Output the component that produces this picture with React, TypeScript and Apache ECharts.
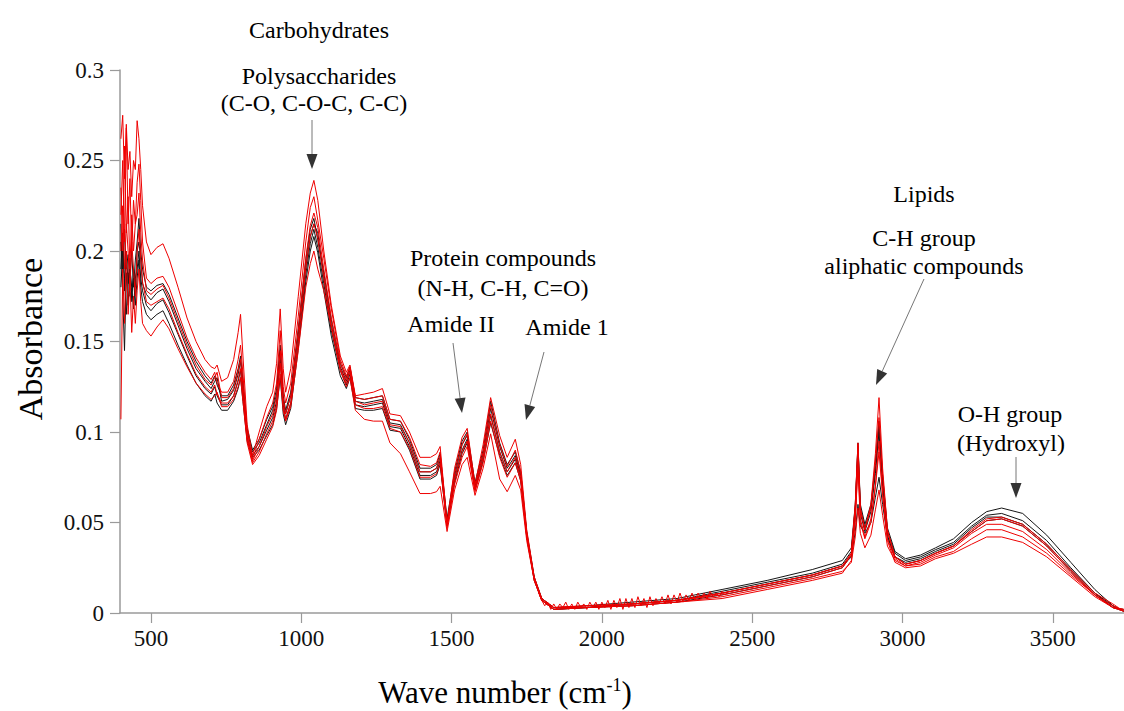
import React, { useEffect, useRef } from "react";
import * as echarts from "echarts";

// Shared wavenumber grid (cm-1)
const wavenumbers = [
  400, 406, 412, 418, 424, 430, 436, 442, 448, 454, 460, 466, 472,
  485, 500, 520, 540, 560, 590, 620, 650, 680, 700,
  712, 720, 735, 755, 775, 790, 798, 806, 820, 838,
  860, 885, 905, 918, 930, 940, 948, 965, 990, 1015,
  1030, 1042, 1055, 1075, 1100, 1130, 1150, 1162, 1180, 1210,
  1240, 1270, 1295, 1330, 1360, 1395, 1430, 1450, 1462, 1485,
  1510, 1535, 1552, 1578, 1605, 1630, 1660, 1685, 1712, 1730,
  1750, 1775, 1800, 1840, 1950, 2100, 2250, 2400, 2550, 2700,
  2800, 2830, 2843, 2852, 2860, 2875, 2895, 2910, 2922, 2934,
  2950, 2975, 3010, 3060, 3110, 3170, 3230, 3280, 3330, 3400,
  3480, 3560, 3640, 3700, 3736,
];

const black1 = [
  0.205, 0.188, 0.212, 0.19, 0.198, 0.185, 0.2, 0.18, 0.195, 0.205, 0.218, 0.2, 0.19,
  0.18, 0.178, 0.181, 0.182, 0.176, 0.163, 0.15, 0.139, 0.131, 0.127,
  0.131, 0.126, 0.12, 0.12, 0.126, 0.135, 0.142, 0.128, 0.102, 0.09,
  0.096, 0.107, 0.114, 0.124, 0.148, 0.12, 0.112, 0.122, 0.157, 0.195,
  0.212, 0.218, 0.206, 0.188, 0.162, 0.138, 0.13, 0.136, 0.119, 0.118,
  0.119, 0.12, 0.107, 0.106, 0.096, 0.08, 0.08, 0.082, 0.088, 0.052,
  0.078, 0.095, 0.1, 0.072, 0.09, 0.117, 0.094, 0.082, 0.089, 0.078,
  0.045, 0.02, 0.008, 0.003, 0.004, 0.006, 0.008, 0.013, 0.018, 0.024,
  0.029, 0.036, 0.06, 0.094, 0.06, 0.049, 0.06, 0.083, 0.106, 0.076,
  0.047, 0.034, 0.03, 0.032, 0.036, 0.041, 0.05, 0.056, 0.058, 0.055,
  0.043, 0.028, 0.013, 0.004, 0.001,
];
const black2 = [
  0.19, 0.21, 0.178, 0.2, 0.182, 0.196, 0.172, 0.19, 0.18, 0.2, 0.205, 0.195, 0.182,
  0.176, 0.173, 0.177, 0.179, 0.172, 0.159, 0.146, 0.135, 0.128, 0.124,
  0.128, 0.13, 0.117, 0.118, 0.123, 0.132, 0.139, 0.125, 0.1, 0.089,
  0.094, 0.104, 0.112, 0.121, 0.145, 0.118, 0.11, 0.12, 0.154, 0.191,
  0.208, 0.215, 0.21, 0.185, 0.159, 0.136, 0.128, 0.134, 0.117, 0.116,
  0.117, 0.118, 0.105, 0.104, 0.094, 0.078, 0.078, 0.08, 0.086, 0.05,
  0.076, 0.093, 0.098, 0.07, 0.088, 0.113, 0.092, 0.08, 0.087, 0.076,
  0.044, 0.019, 0.008, 0.003, 0.003, 0.005, 0.007, 0.012, 0.017, 0.022,
  0.027, 0.034, 0.058, 0.092, 0.058, 0.047, 0.058, 0.08, 0.104, 0.074,
  0.045, 0.033, 0.029, 0.031, 0.035, 0.039, 0.048, 0.054, 0.055, 0.051,
  0.04, 0.025, 0.011, 0.003, 0.002,
];
const black3 = [
  0.215, 0.175, 0.145, 0.188, 0.17, 0.19, 0.18, 0.168, 0.185, 0.19, 0.2, 0.185, 0.178,
  0.17, 0.167, 0.171, 0.173, 0.166, 0.154, 0.142, 0.131, 0.124, 0.121,
  0.125, 0.12, 0.115, 0.115, 0.12, 0.128, 0.134, 0.121, 0.097, 0.087,
  0.092, 0.101, 0.108, 0.117, 0.14, 0.115, 0.107, 0.116, 0.15, 0.187,
  0.204, 0.212, 0.202, 0.182, 0.156, 0.134, 0.126, 0.132, 0.115, 0.114,
  0.115, 0.116, 0.103, 0.102, 0.092, 0.076, 0.076, 0.078, 0.084, 0.049,
  0.074, 0.09, 0.096, 0.069, 0.086, 0.109, 0.089, 0.078, 0.085, 0.075,
  0.043, 0.019, 0.007, 0.002, 0.003, 0.005, 0.007, 0.011, 0.016, 0.021,
  0.026, 0.031, 0.045, 0.06, 0.048, 0.044, 0.05, 0.064, 0.075, 0.06,
  0.042, 0.031, 0.028, 0.03, 0.034, 0.038, 0.047, 0.053, 0.053, 0.049,
  0.038, 0.024, 0.011, 0.004, 0.001,
];
const black4 = [
  0.18, 0.2, 0.185, 0.165, 0.188, 0.175, 0.178, 0.185, 0.17, 0.185, 0.195, 0.18, 0.172,
  0.165, 0.162, 0.165, 0.167, 0.16, 0.148, 0.137, 0.127, 0.12, 0.117,
  0.121, 0.116, 0.112, 0.112, 0.117, 0.124, 0.13, 0.117, 0.095, 0.086,
  0.09, 0.098, 0.104, 0.113, 0.13, 0.11, 0.104, 0.113, 0.146, 0.183,
  0.2, 0.208, 0.199, 0.178, 0.153, 0.131, 0.124, 0.13, 0.113, 0.112,
  0.112, 0.113, 0.101, 0.1, 0.09, 0.074, 0.074, 0.076, 0.082, 0.048,
  0.072, 0.088, 0.094, 0.068, 0.084, 0.105, 0.087, 0.076, 0.083, 0.073,
  0.042, 0.018, 0.007, 0.002, 0.003, 0.004, 0.006, 0.01, 0.015, 0.02,
  0.025, 0.032, 0.055, 0.088, 0.055, 0.045, 0.056, 0.077, 0.1, 0.07,
  0.043, 0.031, 0.027, 0.029, 0.033, 0.037, 0.045, 0.051, 0.052, 0.048,
  0.037, 0.023, 0.01, 0.003, 0.001,
];

const red1 = [
  0.262, 0.275, 0.24, 0.27, 0.245, 0.255, 0.23, 0.25, 0.245, 0.272, 0.262, 0.245, 0.225,
  0.205, 0.198, 0.202, 0.204, 0.196, 0.18, 0.163, 0.15, 0.14, 0.136,
  0.135, 0.137, 0.128, 0.13, 0.14, 0.155, 0.165, 0.142, 0.104, 0.087,
  0.1, 0.114, 0.122, 0.138, 0.168, 0.135, 0.122, 0.135, 0.175, 0.215,
  0.232, 0.239, 0.228, 0.2, 0.17, 0.142, 0.133, 0.137, 0.12, 0.121,
  0.122, 0.124, 0.11, 0.109, 0.1, 0.086, 0.086, 0.088, 0.092, 0.05,
  0.08, 0.097, 0.102, 0.071, 0.093, 0.119, 0.098, 0.086, 0.096, 0.082,
  0.046, 0.02, 0.008, 0.003, 0.004, 0.005, 0.007, 0.011, 0.016, 0.021,
  0.026, 0.033, 0.06, 0.094, 0.058, 0.046, 0.06, 0.088, 0.119, 0.08,
  0.046, 0.031, 0.027, 0.029, 0.033, 0.037, 0.045, 0.051, 0.052, 0.048,
  0.037, 0.023, 0.01, 0.003, 0.002,
];
const red2 = [
  0.22, 0.25, 0.205, 0.268, 0.215, 0.24, 0.2, 0.228, 0.215, 0.238, 0.248, 0.228, 0.205,
  0.185, 0.182, 0.185, 0.186, 0.18, 0.166, 0.152, 0.141, 0.133, 0.129,
  0.133, 0.127, 0.122, 0.122, 0.128, 0.14, 0.148, 0.132, 0.1, 0.085,
  0.096, 0.108, 0.116, 0.127, 0.156, 0.125, 0.116, 0.127, 0.164, 0.205,
  0.224, 0.23, 0.217, 0.196, 0.168, 0.14, 0.131, 0.136, 0.119, 0.118,
  0.119, 0.12, 0.107, 0.106, 0.097, 0.082, 0.081, 0.083, 0.089, 0.049,
  0.077, 0.093, 0.099, 0.069, 0.089, 0.115, 0.093, 0.081, 0.09, 0.078,
  0.044, 0.019, 0.008, 0.003, 0.004, 0.005, 0.007, 0.011, 0.016, 0.021,
  0.026, 0.033, 0.059, 0.093, 0.057, 0.046, 0.058, 0.082, 0.108, 0.076,
  0.045, 0.031, 0.027, 0.029, 0.033, 0.037, 0.046, 0.052, 0.053, 0.049,
  0.038, 0.024, 0.011, 0.005, 0.001,
];
const red3 = [
  0.235, 0.2, 0.258, 0.21, 0.23, 0.19, 0.22, 0.2, 0.215, 0.22, 0.232, 0.21, 0.195,
  0.178, 0.176, 0.179, 0.181, 0.174, 0.161, 0.148, 0.137, 0.129, 0.126,
  0.13, 0.133, 0.119, 0.119, 0.124, 0.134, 0.14, 0.126, 0.098, 0.084,
  0.092, 0.103, 0.11, 0.12, 0.145, 0.119, 0.11, 0.12, 0.156, 0.196,
  0.214, 0.221, 0.213, 0.19, 0.163, 0.138, 0.129, 0.135, 0.117, 0.115,
  0.116, 0.117, 0.104, 0.103, 0.094, 0.078, 0.078, 0.08, 0.086, 0.048,
  0.074, 0.089, 0.095, 0.068, 0.086, 0.11, 0.089, 0.078, 0.086, 0.075,
  0.043, 0.019, 0.007, 0.003, 0.003, 0.005, 0.007, 0.01, 0.015, 0.02,
  0.025, 0.032, 0.052, 0.08, 0.05, 0.041, 0.05, 0.07, 0.089, 0.065,
  0.041, 0.03, 0.026, 0.028, 0.032, 0.036, 0.044, 0.049, 0.049, 0.045,
  0.035, 0.022, 0.01, 0.003, 0.002,
];
const red4 = [
  0.2, 0.225, 0.19, 0.215, 0.2, 0.178, 0.205, 0.19, 0.175, 0.2, 0.212, 0.196, 0.183,
  0.172, 0.17, 0.172, 0.174, 0.168, 0.155, 0.143, 0.132, 0.125, 0.122,
  0.126, 0.121, 0.116, 0.116, 0.12, 0.129, 0.135, 0.12, 0.096, 0.083,
  0.089, 0.099, 0.106, 0.115, 0.138, 0.114, 0.107, 0.116, 0.15, 0.19,
  0.208, 0.215, 0.207, 0.185, 0.158, 0.135, 0.127, 0.133, 0.115, 0.113,
  0.113, 0.114, 0.102, 0.1, 0.091, 0.075, 0.075, 0.077, 0.083, 0.047,
  0.071, 0.086, 0.092, 0.067, 0.083, 0.106, 0.086, 0.075, 0.083, 0.073,
  0.042, 0.018, 0.007, 0.002, 0.003, 0.004, 0.006, 0.009, 0.014, 0.019,
  0.023, 0.028, 0.042, 0.058, 0.044, 0.036, 0.043, 0.057, 0.068, 0.054,
  0.037, 0.029, 0.026, 0.027, 0.031, 0.034, 0.041, 0.046, 0.046, 0.042,
  0.033, 0.021, 0.01, 0.004, 0.001,
];
const red5 = [
  0.107, 0.19, 0.16, 0.2, 0.165, 0.185, 0.155, 0.175, 0.16, 0.178, 0.19, 0.172, 0.16,
  0.156, 0.153, 0.158, 0.162, 0.157, 0.146, 0.136, 0.127, 0.121, 0.118,
  0.12, 0.122, 0.114, 0.114, 0.118, 0.125, 0.13, 0.117, 0.094, 0.082,
  0.087, 0.096, 0.103, 0.112, 0.132, 0.112, 0.106, 0.114, 0.145, 0.18,
  0.193, 0.2, 0.19, 0.178, 0.158, 0.134, 0.125, 0.13, 0.112, 0.107,
  0.106, 0.106, 0.094, 0.088, 0.078, 0.066, 0.066, 0.067, 0.07, 0.045,
  0.068, 0.082, 0.086, 0.065, 0.08, 0.099, 0.074, 0.067, 0.076, 0.068,
  0.04, 0.018, 0.007, 0.002, 0.003, 0.004, 0.006, 0.008, 0.013, 0.018,
  0.022, 0.029, 0.05, 0.085, 0.052, 0.042, 0.052, 0.07, 0.095, 0.066,
  0.04, 0.028, 0.025, 0.026, 0.03, 0.033, 0.038, 0.042, 0.042, 0.039,
  0.031, 0.02, 0.009, 0.003, 0.001,
];

// Noisy baseline band of the red spectra (1790-2420 cm-1)
const noiseWavenumbers = [
  1790, 1800, 1810, 1820, 1830, 1840, 1850, 1860, 1870, 1880, 1890, 1900, 1910,
  1920, 1930, 1940, 1950, 1960, 1970, 1980, 1990, 2000, 2010, 2020, 2030, 2040,
  2050, 2060, 2070, 2080, 2090, 2100, 2110, 2120, 2130, 2140, 2150, 2160, 2170,
  2180, 2190, 2200, 2210, 2220, 2230, 2240, 2250, 2260, 2270, 2280, 2290, 2300,
  2310, 2320, 2330, 2340, 2350, 2360, 2370, 2380, 2390, 2400, 2410, 2420,
];
const noiseRed = [
  0.011, 0.007, 0.004, 0.006, 0.002, 0.005, 0.002, 0.005, 0.003, 0.006, 0.002, 0.005, 0.002,
  0.006, 0.003, 0.005, 0.002, 0.006, 0.003, 0.006, 0.002, 0.006, 0.003, 0.007, 0.002, 0.007,
  0.003, 0.008, 0.002, 0.008, 0.003, 0.008, 0.003, 0.009, 0.004, 0.008, 0.003, 0.009, 0.004,
  0.008, 0.005, 0.009, 0.005, 0.01, 0.005, 0.01, 0.006, 0.011, 0.006, 0.01, 0.007, 0.011,
  0.007, 0.011, 0.008, 0.011, 0.008, 0.012, 0.009, 0.011, 0.009, 0.012, 0.01, 0.012,
];

const xTicks = [500, 1000, 1500, 2000, 2500, 3000, 3500];

const blackSeries = [black1, black2, black3, black4];
const redSeries = [red1, red2, red3, red4, red5];

const FONT = "Liberation Serif, Times New Roman, serif";
const BLACK = "#151515";
const RED = "#ee0000";

function pairs(xs: number[], ys: number[]) {
  return xs.map((x, i) => [x, ys[i]]);
}

function arrow(x1: number, y1: number, x2: number, y2: number) {
  const dx = x2 - x1;
  const dy = y2 - y1;
  const len = Math.hypot(dx, dy);
  const ux = dx / len;
  const uy = dy / len;
  const L = 15;
  const W = 5.5;
  const bx = x2 - ux * L;
  const by = y2 - uy * L;
  return [
    {
      type: "line",
      shape: { x1, y1, x2: bx, y2: by },
      style: { stroke: "#777", lineWidth: 1 },
      silent: true,
    },
    {
      type: "polygon",
      shape: {
        points: [
          [x2, y2],
          [bx - uy * W, by + ux * W],
          [bx + uy * W, by - ux * W],
        ],
      },
      style: { fill: "#333" },
      silent: true,
    },
  ];
}

function label(text: string, x: number, y: number, size = 24) {
  return {
    type: "text",
    x,
    y,
    style: {
      text,
      fill: "#000",
      fontFamily: FONT,
      fontSize: size,
      align: "center",
      verticalAlign: "middle",
    },
    silent: true,
  };
}

export default function App() {
  const ref = useRef<HTMLDivElement>(null);

  useEffect(() => {
    if (!ref.current) return;
    const chart = echarts.init(ref.current, undefined, { renderer: "svg" });

    const series: any[] = [];
    blackSeries.forEach((s, i) => {
      series.push({
        name: `black${i + 1}`,
        type: "line",
        data: pairs(wavenumbers, s),
        showSymbol: false,
        symbol: "none",
        lineStyle: { color: BLACK, width: 1 },
        silent: true,
        z: 2,
      });
    });
    redSeries.forEach((s, i) => {
      series.push({
        name: `red${i + 1}`,
        type: "line",
        data: pairs(wavenumbers, s),
        showSymbol: false,
        symbol: "none",
        lineStyle: { color: RED, width: 1 },
        silent: true,
        z: 3,
      });
    });
    series.push({
      name: "noise",
      type: "line",
      data: pairs(noiseWavenumbers, noiseRed),
      showSymbol: false,
      symbol: "none",
      lineStyle: { color: RED, width: 1 },
      silent: true,
      z: 4,
    });

    const graphics: any[] = [
      label("Carbohydrates", 319, 30),
      label("Polysaccharides", 319, 76),
      label("(C-O, C-O-C, C-C)", 314, 103),
      ...arrow(312, 120, 312, 169),
      label("Protein compounds", 503, 258),
      label("(N-H, C-H, C=O)", 503, 288),
      label("Amide II", 451, 324),
      label("Amide 1", 567, 327),
      ...arrow(453, 343, 462, 413),
      ...arrow(544, 352, 526, 420),
      label("Lipids", 924, 194),
      label("C-H group", 924, 238),
      label("aliphatic compounds", 924, 266),
      ...arrow(924, 279, 876, 385),
      label("O-H group", 1010, 414),
      label("(Hydroxyl)", 1011, 443),
      ...arrow(1016, 457, 1016, 498),
      {
        type: "text",
        x: 30,
        y: 339,
        rotation: Math.PI / 2,
        style: {
          text: "Absorbance",
          fill: "#000",
          fontFamily: FONT,
          fontSize: 34,
          align: "center",
          verticalAlign: "middle",
        },
        silent: true,
      },
      {
        type: "text",
        x: 505,
        y: 692,
        style: {
          text: "Wave number (cm{s|-1})",
          fill: "#000",
          fontFamily: FONT,
          fontSize: 31,
          align: "center",
          verticalAlign: "middle",
          rich: {
            s: {
              fontFamily: FONT,
              fontSize: 18,
              fill: "#000",
              verticalAlign: "top",
              padding: [0, 0, 14, 0],
            },
          },
        },
        silent: true,
      },
    ];

    chart.setOption({
      animation: false,
      backgroundColor: "#ffffff",
      grid: {
        left: 120,
        right: 0,
        top: 70,
        bottom: 98,
        containLabel: false,
        outerBoundsMode: "none",
      },
      xAxis: {
        type: "value",
        min: 397,
        max: 3737,
        axisLine: { show: true, onZero: false, lineStyle: { color: "#9a9a9a", width: 1.5 } },
        axisTick: {
          show: true,
          customValues: xTicks,
          length: 10,
          lineStyle: { color: "#9a9a9a", width: 1.2 },
        },
        axisLabel: {
          customValues: xTicks,
          fontFamily: FONT,
          fontSize: 23,
          color: "#111",
          margin: 14,
          formatter: (v: number) => String(v),
        },
        splitLine: { show: false },
      },
      yAxis: {
        type: "value",
        min: 0,
        max: 0.3,
        interval: 0.05,
        axisLine: { show: true, lineStyle: { color: "#9a9a9a", width: 1.5 } },
        axisTick: { show: true, length: 10, lineStyle: { color: "#9a9a9a", width: 1.2 } },
        axisLabel: {
          fontFamily: FONT,
          fontSize: 23,
          color: "#111",
          margin: 16,
          formatter: (v: number) => String(Number(v.toFixed(2))),
        },
        splitLine: { show: false },
      },
      series,
      graphic: graphics,
    });

    return () => chart.dispose();
  }, []);

  return (
    <div
      ref={ref}
      style={{ position: "absolute", left: 0, top: 0, width: 1124, height: 711 }}
    />
  );
}
